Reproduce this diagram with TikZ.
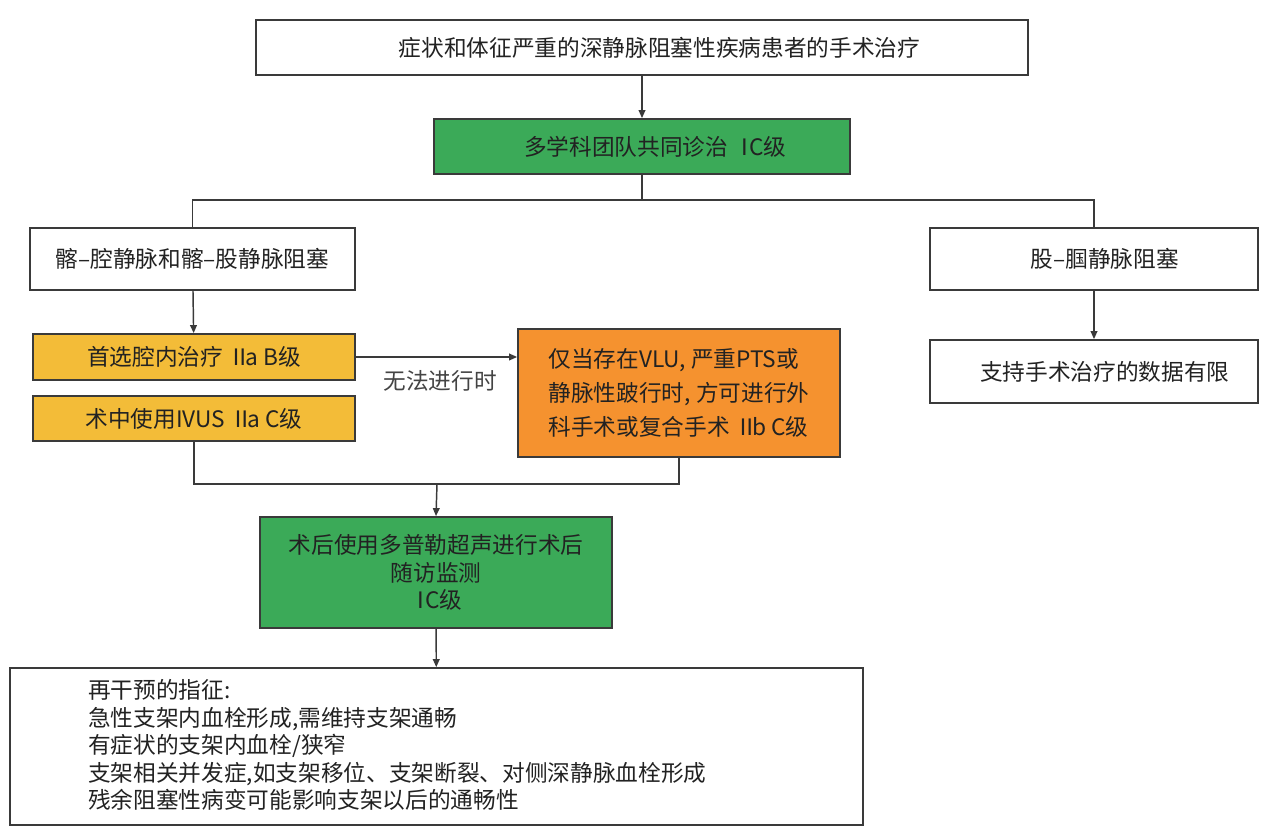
\documentclass[tikz,border=0pt]{standalone}
\usepackage{fontspec}
\setmainfont{Noto Sans CJK SC}
\usetikzlibrary{arrows.meta}
\definecolor{boxgreen}{HTML}{3BAA58}
\definecolor{boxyellow}{HTML}{F3BC38}
\definecolor{boxorange}{HTML}{F5922F}
\definecolor{linegray}{HTML}{3A3A3A}
\definecolor{textblack}{HTML}{222222}
\definecolor{labelgray}{HTML}{444444}
\newcommand\rI{Ⅰ\hspace{-5pt}}
\newcommand\rII{Ⅱ\hspace{-4pt}}
\tikzset{
  box/.style={draw=linegray, line width=1.3pt, inner sep=0pt, align=center,
    font=\fontsize{17pt}{20.6pt}\selectfont, text=textblack},
  greenbox/.style={box, fill=boxgreen},
  yellowbox/.style={box, fill=boxyellow},
  orangebox/.style={box, fill=boxorange, align=left, font=\fontsize{17pt}{25.5pt}\selectfont},
  arr/.style={draw=linegray, line width=1.1pt, -{Triangle[length=6pt,width=5pt]}},
  conn/.style={draw=linegray, line width=1.1pt},
  lbl/.style={font=\fontsize{17pt}{20.6pt}\selectfont, text=labelgray, inner sep=0pt},
  listtext/.style={font=\fontsize{17pt}{20.6pt}\selectfont, text=textblack, align=left, inner sep=0pt, anchor=west}
}
\begin{document}
\begin{tikzpicture}[x=0.75pt,y=-0.75pt]
\useasboundingbox[fill=white] (0,0) rectangle (1268,837);

\node[box, minimum width=579pt, minimum height=41.25pt] (top) at (642,47.5) {\hspace*{26pt}症状和体征严重的深静脉阻塞性疾病患者的手术治疗};
\node[greenbox, minimum width=312pt, minimum height=41.25pt] (mdt) at (642,146.5) {\hspace*{20pt}多学科团队共同诊治 \rI C级};
\node[box, minimum width=243.75pt, minimum height=46.5pt] (left) at (192.5,259) {髂–腔静脉和髂–股静脉阻塞};
\node[box, minimum width=246pt, minimum height=46.5pt] (right) at (1094,259) {\hspace*{16pt}股–腘静脉阻塞};
\node[yellowbox, minimum width=241.5pt, minimum height=34.5pt] (y1) at (194,357) {首选腔内治疗 \rII a B级};
\node[yellowbox, minimum width=241.5pt, minimum height=33.75pt] (y2) at (194,418.5) {术中使用IVUS \rII a C级};
\node[orangebox, minimum width=241.5pt, minimum height=96pt] (orange) at (679,393) {仅当存在VLU, 严重PTS或\\静脉性跛行时, 方可进行外\\科手术或复合手术 \rII b C级};
\node[box, minimum width=246pt, minimum height=47.25pt] (right2) at (1094,371.5) {\hspace*{16pt}支持手术治疗的数据有限};
\node[greenbox, minimum width=264pt, minimum height=83.25pt] (follow) at (436,572.5) {术后使用多普勒超声进行术后\\随访监测\\\rI C级};
\node[box, minimum width=639.75pt, minimum height=117.75pt] (bottom) at (436.5,746.5) {};
\node[listtext] (btext) at (88,745) {再干预的指征:\\急性支架内血栓形成,需维持支架通畅\\有症状的支架内血栓/狭窄\\支架相关并发症,如支架移位、支架断裂、对侧深静脉血栓形成\\残余阻塞性病变可能影响支架以后的通畅性};

\coordinate (split) at (642,200);
\coordinate (merge) at (437,484);

\draw[arr] (top) -- (mdt);
\draw[conn] (mdt.south) -- (split);
\draw[conn] (left.north) |- (split) -| (right.north);
\draw[arr] (left) -- (y1);
\draw[arr] (right) -- (right2);
\draw[arr] (y1.east) -- (y1.east -| orange.west);
\node[lbl] (cond) at (440,381) {无法进行时};
\draw[conn] (y2.south) |- (merge);
\draw[conn] (orange.south) |- (merge);
\draw[arr] (merge) -- (follow.north);
\draw[arr] (follow) -- (bottom);
\end{tikzpicture}
\end{document}
